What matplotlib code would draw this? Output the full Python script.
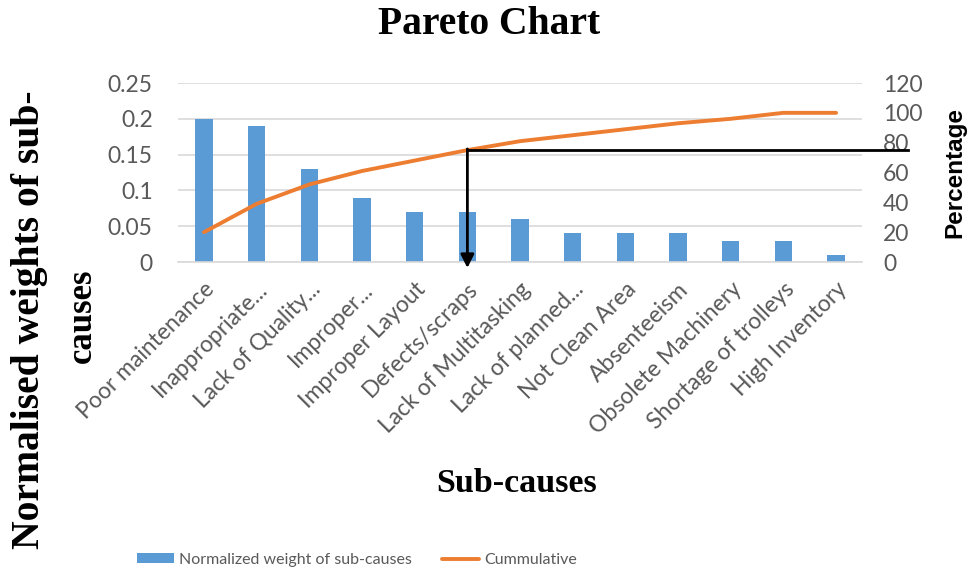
import matplotlib
matplotlib.use("Agg")
import matplotlib.pyplot as plt
import matplotlib.transforms as mtransforms
import numpy as np

categories = ["Poor maintenance", "Inappropriate...", "Lack of Quality...", "Improper...",
              "Improper Layout", "Defects/scraps", "Lack of Multitasking", "Lack of planned...",
              "Not Clean Area", "Absenteeism", "Obsolete Machinery", "Shortage of trolleys",
              "High Inventory"]
weights = [0.20, 0.19, 0.13, 0.09, 0.07, 0.07, 0.06, 0.04, 0.04, 0.04, 0.03, 0.03, 0.01]
cumulative = [20, 39, 52, 61, 68, 75, 81, 85, 89, 93, 96, 100, 100]
left_ticks = [0, 0.05, 0.1, 0.15, 0.2, 0.25]
left_labels = ["0", "0.05", "0.1", "0.15", "0.2", "0.25"]
right_ticks = [0, 20, 40, 60, 80, 100, 120]
arrow_index = 5  # Defects/scraps

BLUE = "#5b9bd5"
ORANGE = "#ed7d31"
GRID = "#d9d9d9"
TXT = "#595959"
SANS = ["Lato", "DejaVu Sans"]
SERIF = ["Liberation Serif", "DejaVu Serif"]

fig = plt.figure(figsize=(9.75, 5.73), dpi=100)
ax = fig.add_axes([177.7 / 975, 1 - 262 / 573, 684.7 / 975, 179 / 573])
x = np.arange(len(categories))
bars = ax.bar(x, weights, width=0.33, color=BLUE, zorder=2, label="Normalized weight of sub-causes")
ax.set_xlim(-0.5, len(categories) - 0.5)
ax.set_ylim(0, 0.25)
ax.set_yticks(left_ticks)
ax.set_yticklabels(left_labels)
ax.yaxis.grid(True, color=GRID, linewidth=1.2, zorder=0)
ax.set_axisbelow(True)
for s in ["top", "right", "left"]:
    ax.spines[s].set_visible(False)
ax.spines["bottom"].set_color(GRID)
ax.spines["bottom"].set_linewidth(1.2)
ax.tick_params(axis="both", length=0, colors=TXT)
ax.tick_params(axis="y", pad=18, labelsize=16.5)
ax.set_xticks(x)
ax.set_xticklabels(categories, rotation=45, ha="right", rotation_mode="anchor",
                   fontsize=16.5, family=SANS, color=TXT)
ax.tick_params(axis="x", pad=12)
for lab in ax.get_yticklabels():
    lab.set_family(SANS)

ax2 = ax.twinx()
ax2.set_ylim(0, 120)
ax2.set_yticks(right_ticks)
ax2.tick_params(axis="y", length=0, colors=TXT, pad=15, labelsize=16.5)
for lab in ax2.get_yticklabels():
    lab.set_family(SANS)
for s in ["top", "right", "left", "bottom"]:
    ax2.spines[s].set_visible(False)
line, = ax2.plot(x, cumulative, color=ORANGE, linewidth=2.8, solid_capstyle="round",
                 zorder=3, label="Cummulative")

# arrow annotation
yv = cumulative[arrow_index]
trans = mtransforms.blended_transform_factory(ax2.transAxes, ax2.transData)
x0_axes = (arrow_index + 0.5) / len(categories)
ax2.plot([x0_axes, 1.067], [yv, yv], color="black", linewidth=2, transform=trans,
         clip_on=False, zorder=4)
ax2.annotate("", xy=(arrow_index, -4), xytext=(arrow_index, yv + 0.8),
             arrowprops=dict(arrowstyle="-|>,head_length=0.8,head_width=0.4",
                             color="black", lw=2, shrinkA=0, shrinkB=0),
             annotation_clip=False, zorder=4)

fig.text(489 / 975, 1 - 24 / 573, "Pareto Chart", family=SERIF, fontweight="bold",
         fontsize=28.5, ha="center", va="center")
fig.text(517 / 975, 1 - 483 / 573, "Sub-causes", family=SERIF, fontweight="bold",
         fontsize=24.5, ha="center", va="center")
fig.text(30 / 975, 1 - 320 / 573, "Normalised weights of sub-", family=SERIF,
         fontweight="bold", fontsize=28.5, rotation=90, ha="center", va="center")
fig.text(82 / 975, 1 - 316 / 573, "causes", family=SERIF,
         fontweight="bold", fontsize=25, rotation=90, ha="center", va="center")
fig.text(955 / 975, 1 - 172 / 573, "Percentage", family=["Liberation Sans", "DejaVu Sans"],
         fontweight="bold", fontsize=17.5, rotation=90, ha="center", va="center")

leg = fig.legend([bars, line], ["Normalized weight of sub-causes", "Cummulative"],
                 loc="center", bbox_to_anchor=(357 / 975, 1 - 560 / 573), ncol=2,
                 frameon=False, prop={"family": SANS, "size": 11.5},
                 handlelength=2.3, handleheight=0.6, columnspacing=1.9, handletextpad=0.3,
                 labelcolor=TXT)

fig.savefig("out.png", dpi=100)
